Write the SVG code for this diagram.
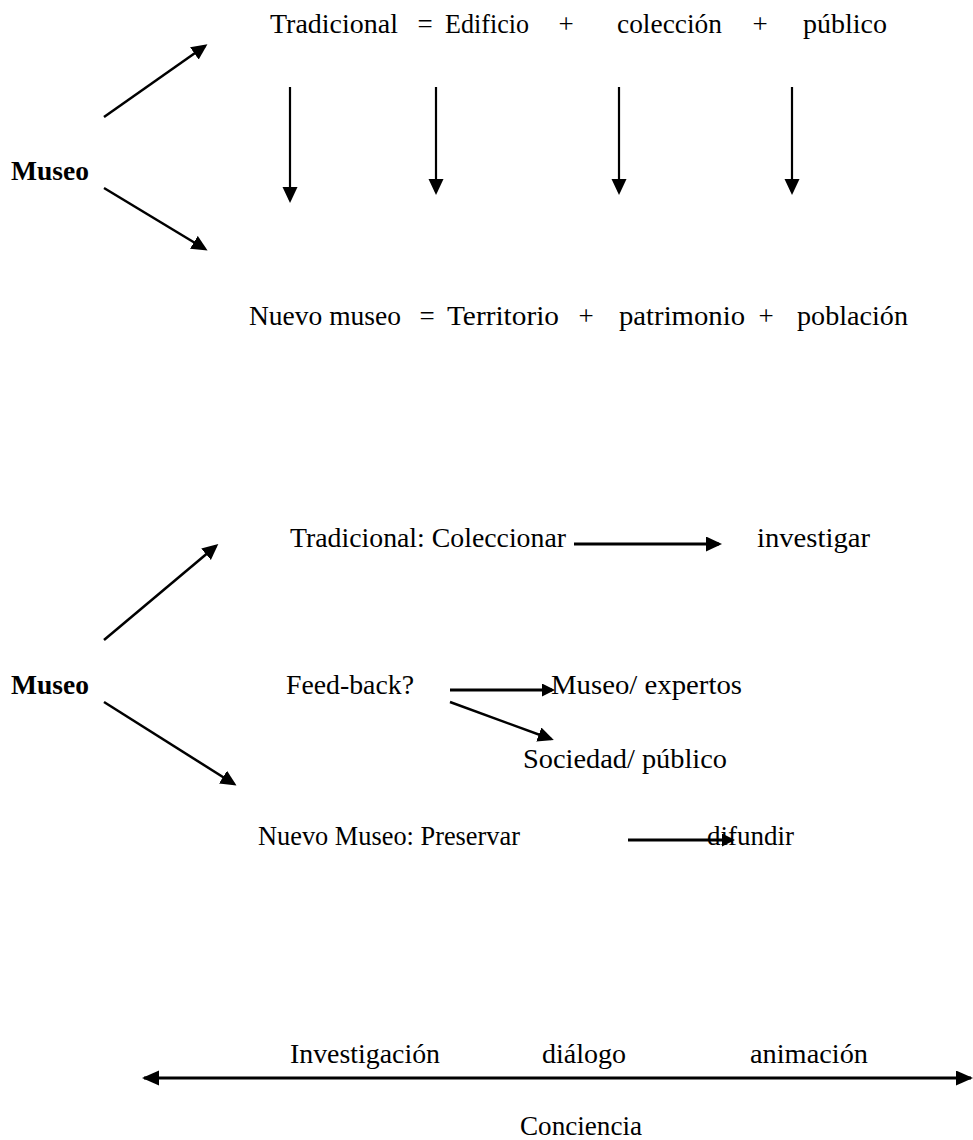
<svg xmlns="http://www.w3.org/2000/svg" width="973" height="1140" viewBox="0 0 973 1140">
<style>
text{font-family:"Liberation Serif","Times New Roman",serif;font-size:27px;fill:#000}
.b{font-weight:bold}
.m{text-anchor:middle}
.c{stroke:#000;fill:none;stroke-width:2.5}
.v{stroke-width:2.2}
.t{stroke-width:3}
</style>
<defs>
<marker id="ah" markerUnits="userSpaceOnUse" markerWidth="17" markerHeight="16" refX="13" refY="7.5" orient="auto" viewBox="0 0 17 16"><path d="M0,0 L16,7.5 L0,15 z" fill="#000"/></marker>
<marker id="ahs" markerUnits="userSpaceOnUse" markerWidth="15" markerHeight="14" refX="10" refY="6.5" orient="auto" viewBox="0 0 15 14"><path d="M0,0 L13,6.5 L0,13 z" fill="#000"/></marker>
<marker id="ahb" markerUnits="userSpaceOnUse" markerWidth="18" markerHeight="16" refX="15" refY="7.5" orient="auto-start-reverse" viewBox="0 0 18 16"><path d="M0,0 L17,7.5 L0,15 z" fill="#000"/></marker>
</defs>
<g id="connectors">
<line class="c" x1="104" y1="117" x2="205" y2="46" marker-end="url(#ah)"/>
<line class="c" x1="104" y1="188" x2="205" y2="249" marker-end="url(#ah)"/>
<line class="c v" x1="290" y1="87" x2="290" y2="200" marker-end="url(#ah)"/>
<line class="c v" x1="436" y1="87" x2="436" y2="192" marker-end="url(#ah)"/>
<line class="c v" x1="619" y1="87" x2="619" y2="192" marker-end="url(#ah)"/>
<line class="c v" x1="792" y1="87" x2="792" y2="192" marker-end="url(#ah)"/>
<line class="c" x1="104" y1="640" x2="216" y2="546" marker-end="url(#ah)"/>
<line class="c" x1="104" y1="702" x2="234" y2="784" marker-end="url(#ah)"/>
<line class="c t" x1="574" y1="544" x2="719" y2="544" marker-end="url(#ah)"/>
<line class="c t" x1="450" y1="690" x2="552" y2="690" marker-end="url(#ahs)"/>
<line class="c" x1="450" y1="702" x2="551" y2="739" marker-end="url(#ah)"/>
<line class="c t" x1="628" y1="840" x2="732" y2="840" marker-end="url(#ahs)"/>
<line class="c t" x1="144" y1="1078" x2="971" y2="1078" marker-start="url(#ahb)" marker-end="url(#ahb)"/>
</g>
<g id="museo1"><text class="b" x="11" y="180" textLength="78" lengthAdjust="spacingAndGlyphs">Museo</text></g>
<g id="tradicional1">
<text x="270" y="33" textLength="128" lengthAdjust="spacingAndGlyphs">Tradicional</text>
<text class="m" x="425" y="33">=</text>
<text x="445" y="33" textLength="84" lengthAdjust="spacingAndGlyphs">Edificio</text>
<text class="m" x="566" y="33">+</text>
<text x="617" y="33" textLength="105" lengthAdjust="spacingAndGlyphs">colección</text>
<text class="m" x="760" y="33">+</text>
<text x="803" y="33" textLength="84" lengthAdjust="spacingAndGlyphs">público</text>
</g>
<g id="nuevo1">
<text x="249" y="325" textLength="152" lengthAdjust="spacingAndGlyphs">Nuevo museo</text>
<text class="m" x="427" y="325">=</text>
<text x="447" y="325" textLength="112" lengthAdjust="spacingAndGlyphs">Territorio</text>
<text class="m" x="586" y="325">+</text>
<text x="619" y="325" textLength="126" lengthAdjust="spacingAndGlyphs">patrimonio</text>
<text class="m" x="766" y="325">+</text>
<text x="797" y="325" textLength="111" lengthAdjust="spacingAndGlyphs">población</text>
</g>
<g id="museo2"><text class="b" x="11" y="694" textLength="78" lengthAdjust="spacingAndGlyphs">Museo</text></g>
<g id="tradicional2"><text x="290" y="547" textLength="276" lengthAdjust="spacingAndGlyphs">Tradicional: Coleccionar</text></g>
<g id="investigar"><text x="757" y="547" textLength="113" lengthAdjust="spacingAndGlyphs">investigar</text></g>
<g id="feedback"><text x="286" y="694" textLength="128" lengthAdjust="spacingAndGlyphs">Feed-back?</text></g>
<g id="expertos"><text x="551" y="694" textLength="191" lengthAdjust="spacingAndGlyphs">Museo/ expertos</text></g>
<g id="sociedad"><text x="523" y="768" textLength="204" lengthAdjust="spacingAndGlyphs">Sociedad/ público</text></g>
<g id="nuevo2"><text x="258" y="845" textLength="262" lengthAdjust="spacingAndGlyphs">Nuevo Museo: Preservar</text></g>
<g id="difundir"><text x="707" y="845" textLength="87" lengthAdjust="spacingAndGlyphs">difundir</text></g>
<g id="investigacion"><text x="290" y="1063" textLength="150" lengthAdjust="spacingAndGlyphs">Investigación</text></g>
<g id="dialogo"><text x="542" y="1063" textLength="84" lengthAdjust="spacingAndGlyphs">diálogo</text></g>
<g id="animacion"><text x="750" y="1063" textLength="118" lengthAdjust="spacingAndGlyphs">animación</text></g>
<g id="conciencia"><text x="520" y="1135" textLength="122" lengthAdjust="spacingAndGlyphs">Conciencia</text></g>
</svg>
